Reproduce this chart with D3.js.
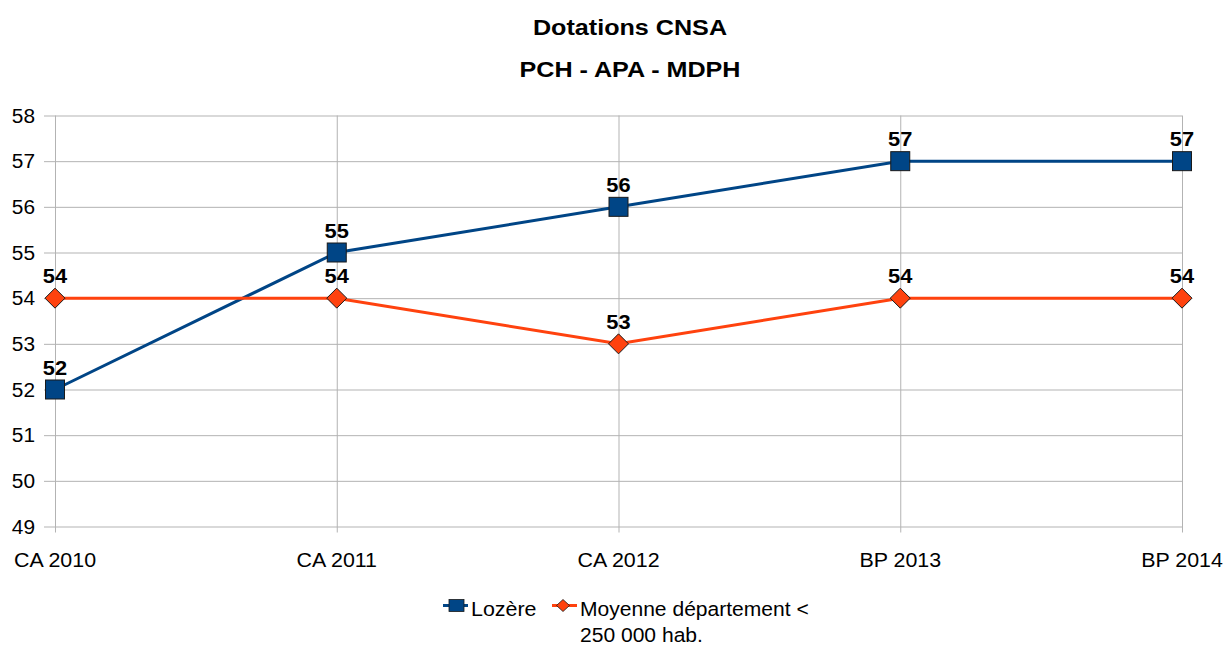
<!DOCTYPE html>
<html>
<head>
<meta charset="utf-8">
<script src="https://cdn.jsdelivr.net/npm/d3@7"></script>
<style>
  body { margin: 0; background: #fff; }
  text { font-family: "Liberation Sans", Arial, sans-serif; }
</style>
</head>
<body>
<div class="chart"></div>
<script>
"use strict";

// data
var categories = ['CA 2010', 'CA 2011', 'CA 2012', 'BP 2013', 'BP 2014'];
var lozere = [52, 55, 56, 57, 57];
var moyenne = [54, 54, 53, 54, 54];
var yTicks = [49, 50, 51, 52, 53, 54, 55, 56, 57, 58];

(function(){

var width = 1224, height = 646;
var plotLeft = 55, plotRight = 1182, plotTop = 115.5, plotBottom = 526.5;

var svg = d3.select('.chart').append('svg')
  .attr('width', width).attr('height', height);

var x = d3.scalePoint().domain(categories).range([plotLeft, plotRight]);
var y = d3.scaleLinear().domain([49, 58]).range([plotBottom, plotTop]);

// the source renders its glyphs a bit wider than normal, so stretch text horizontally
var wideText = function(sel, px, py, size, sx, anchor, bold) {
  return sel.append('text')
    .attr('transform', 'translate(' + px + ',' + py + ') scale(' + sx + ',1)')
    .attr('text-anchor', anchor)
    .style('font-size', size + 'px')
    .style('font-weight', bold ? 'bold' : 'normal');
}

// titles
wideText(svg, 630, 35, 21.5, 1.17, 'middle', true).text('Dotations CNSA');
wideText(svg, 630, 77, 21.5, 1.17, 'middle', true).text('PCH - APA - MDPH');

// horizontal grid
var yAxis = d3.axisLeft(y).tickValues(yTicks).tickSize(-(plotRight - plotLeft) - 11).tickFormat('');
var gy = svg.append('g').attr('transform', 'translate(' + (plotLeft - 11) + ',0)').call(yAxis);
gy.select('.domain').remove();
gy.selectAll('line').attr('stroke', '#b3b3b3');

yTicks.forEach(function(t){
  wideText(svg, 35, y(t) + 7, 19.5, 1.07, 'end', false).text(t);
});

// vertical grid
var xAxis = d3.axisBottom(x).tickSize(0).tickFormat('');
var gx = svg.append('g').attr('transform', 'translate(0,' + (plotBottom + 6) + ')').call(xAxis);
gx.select('.domain').remove();
gx.selectAll('line').attr('stroke', '#b3b3b3').attr('y1', 0).attr('y2', -(plotBottom - plotTop) - 6);

categories.forEach(function(c){
  wideText(svg, x(c), 567, 20, 1.07, 'middle', false).text(c);
});

// lines
var line = d3.line().x(function(d, i){ return x(categories[i]) }).y(function(d){ return y(d) });

svg.append('path').datum(lozere).attr('d', line)
  .attr('fill', 'none').attr('stroke', '#004586').attr('stroke-width', 3);
svg.append('path').datum(moyenne).attr('d', line)
  .attr('fill', 'none').attr('stroke', '#ff420e').attr('stroke-width', 3);

// markers
svg.selectAll('.diam').data(moyenne).enter().append('path')
  .attr('class', 'diam')
  .attr('d', 'M0,-10L10,0L0,10L-10,0Z')
  .attr('transform', function(d, i){ return 'translate(' + x(categories[i]) + ',' + y(d) + ')' })
  .attr('fill', '#ff420e').attr('stroke', '#1a1a1a').attr('stroke-width', 1);

svg.selectAll('.sq').data(lozere).enter().append('rect')
  .attr('class', 'sq')
  .attr('x', function(d, i){ return x(categories[i]) - 9.5 })
  .attr('y', function(d){ return y(d) - 9.5 })
  .attr('width', 19).attr('height', 19)
  .attr('fill', '#004586').attr('stroke', '#1a1a1a').attr('stroke-width', 1);

// value labels
var labels = function(data) {
  data.forEach(function(d, i){
    wideText(svg, x(categories[i]), y(d) - 15, 19.5, 1.12, 'middle', true).text(d);
  });
}
labels(lozere);
labels(moyenne);

// legend
var leg = svg.append('g');
leg.append('line').attr('x1', 443).attr('x2', 468).attr('y1', 605.5).attr('y2', 605.5)
  .attr('stroke', '#004586').attr('stroke-width', 3);
leg.append('rect').attr('x', 449).attr('y', 599.5).attr('width', 15).attr('height', 12)
  .attr('fill', '#004586').attr('stroke', '#1a1a1a').attr('stroke-width', 0.8);
wideText(leg, 471, 616, 19.5, 1.1, 'start', false).text('Lozère');
leg.append('line').attr('x1', 552).attr('x2', 577).attr('y1', 605.5).attr('y2', 605.5)
  .attr('stroke', '#ff420e').attr('stroke-width', 3);
leg.append('path').attr('d', 'M0,-6L6.5,0L0,6L-6.5,0Z').attr('transform', 'translate(563,605.5)')
  .attr('fill', '#ff420e').attr('stroke', '#1a1a1a').attr('stroke-width', 0.8);
wideText(leg, 580, 616, 19.5, 1.08, 'start', false).text('Moyenne département <');
wideText(leg, 580, 642, 19.5, 1.08, 'start', false).text('250 000 hab.');

})();
</script>
</body>
</html>
